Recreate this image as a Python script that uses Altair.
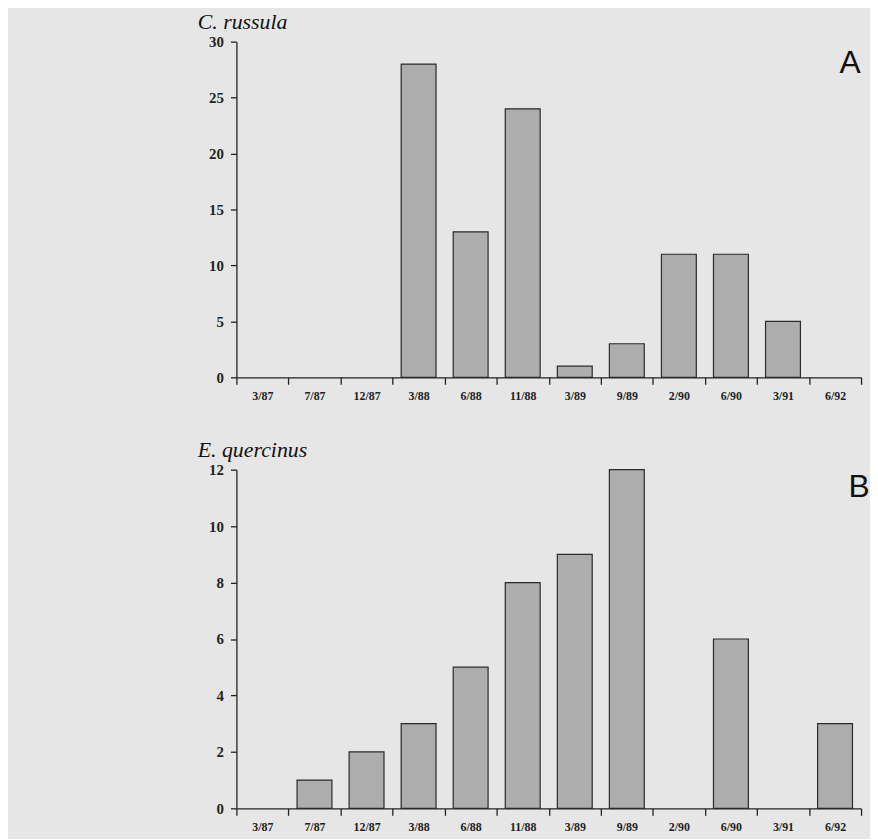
import altair as alt
import pandas as pd

periods = ["3/87", "7/87", "12/87", "3/88", "6/88", "11/88", "3/89", "9/89", "2/90", "6/90", "3/91", "6/92"]
russula = [0, 0, 0, 28, 13, 24, 1, 3, 11, 11, 5, 0]
quercinus = [0, 1, 2, 3, 5, 8, 9, 12, 0, 6, 0, 3]

y_ticks_a = [0, 5, 10, 15, 20, 25, 30]
y_ticks_b = [0, 2, 4, 6, 8, 10, 12]

W = 629

def panel(values, species, letter, ymax, yticks, letter_x, letter_y, h):
    df = pd.DataFrame({"period": periods, "n": values})
    base = alt.Chart(df)
    bars = base.mark_bar(
        width=alt.RelativeBandSize(0.67),
        fill="#adadad",
        stroke="#2a2a2a",
        strokeWidth=1.2,
    ).encode(
        x=alt.X(
            "period:N",
            sort=periods,
            scale=alt.Scale(domain=periods, paddingInner=0, paddingOuter=0),
            axis=alt.Axis(
                title=None,
                labelAngle=0,
                tickBand="extent",
                tickSize=7,
                tickColor="#222",
                tickWidth=1.3,
                domainColor="#222",
                domainWidth=1.3,
                labelFont="Liberation Serif",
                labelFontWeight="bold",
                labelFontSize=12,
                labelColor="#222",
                labelPadding=6,
            ),
        ),
        y=alt.Y(
            "n:Q",
            scale=alt.Scale(domain=[0, ymax], nice=False),
            axis=alt.Axis(
                title=None,
                values=yticks,
                grid=False,
                tickSize=6,
                tickColor="#222",
                tickWidth=1.3,
                domainColor="#222",
                domainWidth=1.3,
                labelFont="Liberation Serif",
                labelFontWeight="bold",
                labelFontSize=15,
                labelColor="#222",
                labelPadding=7,
            ),
        ),
    ).transform_filter(alt.datum.n > 0)

    lab = alt.Chart(pd.DataFrame({"lab": [letter]})).mark_text(
        font="Liberation Sans", fontSize=32, color="#111", align="center", baseline="middle"
    ).encode(text="lab:N", x=alt.value(letter_x), y=alt.value(letter_y))

    return alt.layer(bars, lab).properties(
        width=W,
        height=h,
        title=alt.TitleParams(
            species,
            anchor="start",
            font="Liberation Serif",
            fontStyle="italic",
            fontWeight="normal",
            fontSize=22,
            color="#111",
            dx=-11,
            offset=1,
        ),
    )

chart_a = panel(russula, "C. russula", "A", 30, y_ticks_a, 618, 22, 338)
chart_b = panel(quercinus, "E. quercinus", "B", 12, y_ticks_b, 627, 18, 341)

chart = alt.vconcat(chart_a, chart_b, spacing=38).properties(
    background="#e6e6e6",
    padding={"left": 191, "top": 0, "right": 0, "bottom": 4},
).configure_view(stroke=None)

chart.save("out.html", embed_options={"renderer": "svg", "actions": False})
